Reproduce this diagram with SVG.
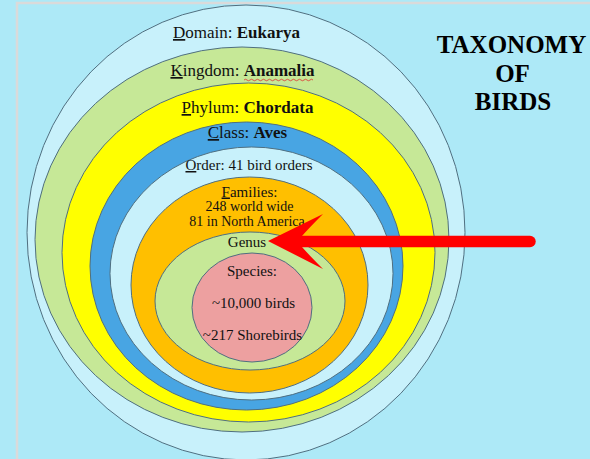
<svg xmlns="http://www.w3.org/2000/svg" width="590" height="459" viewBox="0 0 590 459">
<style>
.ring{stroke:#4f6f80;stroke-width:1}
.t{font-family:"Liberation Serif","Times New Roman",serif;fill:#111;text-anchor:middle}
.b{font-weight:bold}
.u{text-decoration:underline}
.title{font-family:"Liberation Serif","Times New Roman",serif;font-weight:bold;font-size:25px;fill:#000;text-anchor:middle}
</style>
<rect width="590" height="459" fill="#ade9f7"/>
<path d="M17,470 L17,3 L600,3" fill="none" stroke="#dadada" stroke-width="2.5"/>
<g id="domain">
<ellipse class="ring" cx="246" cy="232.5" rx="219" ry="227.5" fill="#c8f1fb"/>
<text class="t" x="236.5" y="38" font-size="17"><tspan class="u">D</tspan>omain: <tspan class="b">Eukarya</tspan></text>
</g>
<g id="kingdom">
<ellipse class="ring" cx="242" cy="239.5" rx="207" ry="192.5" fill="#c6e897"/>
<text class="t" x="242.5" y="76" font-size="17"><tspan class="u">K</tspan>ingdom: <tspan class="b">Anamalia</tspan></text>
<path d="M244,80 q1.5,-1.5 3,0 t3,0 t3,0 t3,0 t3,0 t3,0 t3,0 t3,0 t3,0 t3,0 t3,0 t3,0 t3,0 t3,0 t3,0 t3,0 t3,0 t3,0 t3,0 t3,0 t3,0 t3,0 t3,0" fill="none" stroke="#e03030" stroke-width="0.8"/>
</g>
<g id="phylum">
<ellipse class="ring" cx="248.5" cy="252.5" rx="186.5" ry="169.5" fill="#ffff00"/>
<text class="t" x="247.5" y="113" font-size="17"><tspan class="u">P</tspan>hylum: <tspan class="b">Chordata</tspan></text>
</g>
<g id="class">
<ellipse class="ring" cx="246.5" cy="266" rx="156.5" ry="144" fill="#48a5e3"/>
<text class="t" x="247.5" y="138" font-size="17"><tspan class="u">C</tspan>lass: <tspan class="b">Aves</tspan></text>
</g>
<g id="order">
<ellipse class="ring" cx="251.5" cy="273.5" rx="141.5" ry="126.5" fill="#c8f1fb"/>
<text class="t" x="249" y="170" font-size="15"><tspan class="u">O</tspan>rder: 41 bird orders</text>
</g>
<g id="families">
<ellipse class="ring" cx="249.5" cy="285" rx="118.5" ry="108" fill="#ffbf00"/>
<text class="t" x="249.5" y="196.5" font-size="15"><tspan class="u">F</tspan>amilies:</text>
<text class="t" x="249.5" y="211" font-size="14">248 world wide</text>
<text class="t" x="247" y="225.5" font-size="14">81 in North America</text>
</g>
<g id="genus">
<ellipse class="ring" cx="250" cy="301" rx="95" ry="69" fill="#c6e897"/>
<text class="t" x="247" y="247" font-size="15">Genus</text>
</g>
<g id="species">
<ellipse class="ring" cx="252" cy="307.5" rx="60" ry="54.5" fill="#eda0a0"/>
<text class="t" x="252" y="276" font-size="15">Species:</text>
<text class="t" x="253.5" y="308" font-size="15">~10,000 birds</text>
<text class="t" x="252.5" y="340" font-size="15">~217 Shorebirds</text>
</g>
<g id="title">
<text class="title" x="511.5" y="53">TAXONOMY</text>
<text class="title" x="512.5" y="82">OF</text>
<text class="title" x="513" y="110">BIRDS</text>
</g>
<g id="connectors">
<line x1="300" y1="241.5" x2="530" y2="241.5" stroke="#ff0000" stroke-width="11.5" stroke-linecap="round"/>
<path d="M268,241 L323,214 Q309,228 302,236 L302,247 Q309,255 323,269 Z" fill="#ff0000"/>
</g>
</svg>
